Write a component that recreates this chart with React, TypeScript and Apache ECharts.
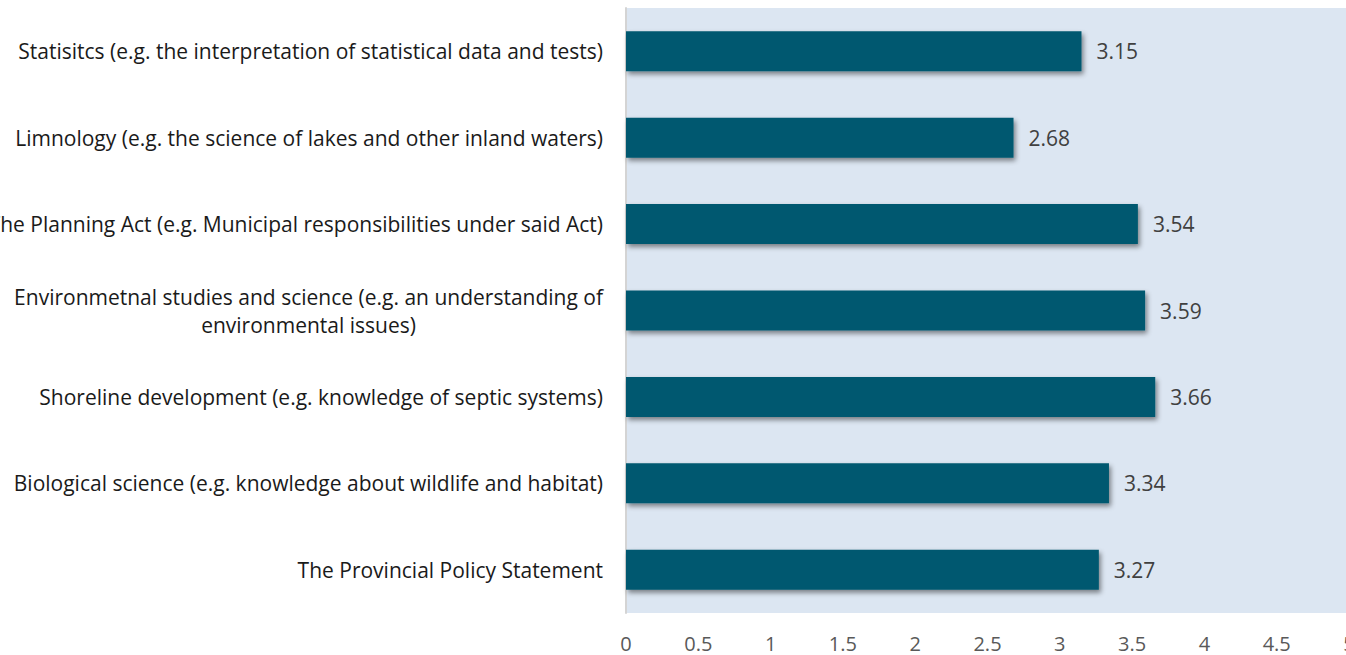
import React, { useEffect, useRef } from "react";
import * as echarts from "echarts";

const categories = [
  "Statisitcs (e.g. the interpretation of statistical data and tests)",
  "Limnology (e.g. the science of lakes and other inland waters)",
  "The Planning Act (e.g. Municipal responsibilities under said Act)",
  "Environmetnal studies and science (e.g. an understanding of\nenvironmental issues)",
  "Shoreline development (e.g. knowledge of septic systems)",
  "Biological science (e.g. knowledge about wildlife and habitat)",
  "The Provincial Policy Statement",
];
const values = [3.15, 2.68, 3.54, 3.59, 3.66, 3.34, 3.27];
const FONT = "Open Sans";

export default function App() {
  const ref = useRef<HTMLDivElement>(null);
  useEffect(() => {
    if (!ref.current) return;
    const chart = echarts.init(ref.current, undefined, { renderer: "svg" });
    chart.setOption({
      animation: false,
      grid: {
        left: 626,
        right: 0,
        top: 8,
        bottom: 42,
        show: true,
        backgroundColor: "#dce6f2",
        borderWidth: 0,
        containLabel: false,
        outerBoundsMode: "none",
      },
      xAxis: {
        type: "value",
        min: 0,
        max: 5,
        interval: 0.5,
        axisLine: { show: false },
        axisTick: { show: false },
        splitLine: { show: false },
        axisLabel: {
          color: "#595959",
          fontFamily: FONT,
          fontSize: 20,
          margin: 20,
          showMaxLabel: true,
        },
      },
      yAxis: {
        type: "category",
        inverse: true,
        data: categories,
        axisLine: { show: true, lineStyle: { color: "#d4d4d4", width: 2 } },
        axisTick: { show: false },
        axisLabel: {
          margin: 23,
          color: "#1a1a1a",
          fontFamily: FONT,
          fontSize: 21,
          lineHeight: 28,
          formatter: (v: string) =>
            v
              .split("\n")
              .map((l) => `{c|${l}}`)
              .join("\n"),
          rich: {
            c: {
              align: "center",
              fontFamily: FONT,
              fontSize: 21,
              color: "#1a1a1a",
              lineHeight: 28,
            },
          },
        },
      },
      series: [
        {
          type: "bar",
          data: values,
          barWidth: 40,
          itemStyle: {
            color: "#02596f",
            shadowColor: "rgba(0,0,0,0.45)",
            shadowBlur: 5,
            shadowOffsetX: 2,
            shadowOffsetY: 3,
          },
          label: {
            show: true,
            position: "right",
            distance: 15,
            color: "#404040",
            fontFamily: FONT,
            fontSize: 21,
            formatter: (p: any) => p.value.toFixed(2),
          },
        },
      ],
    });
    return () => chart.dispose();
  }, []);
  return (
    <div
      style={{
        position: "absolute",
        left: 0,
        top: 0,
        width: 1346,
        height: 655,
        overflow: "hidden",
      }}
    >
      <div ref={ref} style={{ width: 1349, height: 655 }} />
    </div>
  );
}
